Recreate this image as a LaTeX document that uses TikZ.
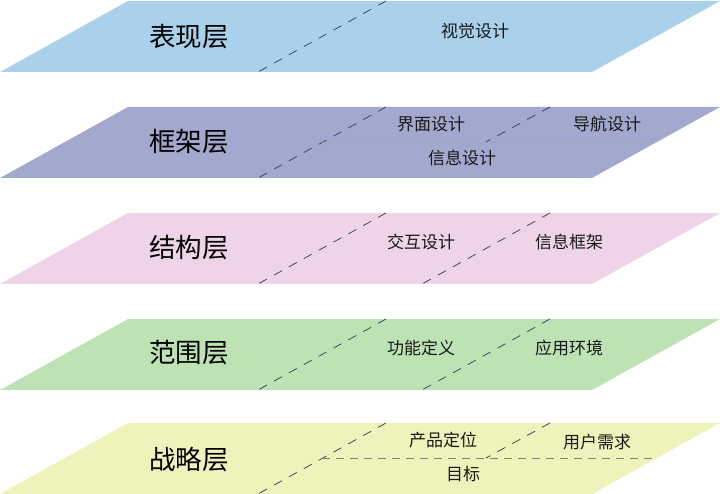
\documentclass[tikz,border=0pt]{standalone}
\usepackage{fontspec}
\setmainfont{Noto Sans CJK SC}
\usetikzlibrary{calc}
\definecolor{bandblue}{HTML}{A9D1EC}
\definecolor{bandviolet}{HTML}{A3A8CE}
\definecolor{bandpink}{HTML}{EFD4E9}
\definecolor{bandgreen}{HTML}{BDE3B5}
\definecolor{bandyellow}{HTML}{EEF3BB}
\definecolor{dashdark}{HTML}{3C4A5C}
\tikzset{
    % Pixel-like units, y running downwards
    x=1pt, y=-1pt,
%
    % Big name of each layer
    layer title/.style={font=\fontsize{26.5}{29}\selectfont, text=black},
%
    % Smaller item text inside a layer
    item label/.style={font=\fontsize{17}{19}\selectfont, text=black!90},
%
    % Slanted split between items
    slant split/.style={draw=dashdark, line width=0.8pt, dash pattern=on 9pt off 8pt},
%
    % Level split between items
    level split/.style={draw=#1, line width=0.9pt, dash pattern=on 8pt off 6pt}}

\begin{document}
\begin{tikzpicture}

\useasboundingbox (0,0) rectangle (720,494);

% the five slanted bands
\foreach \ytop/\col in {1/bandblue,107/bandviolet,213/bandpink,319/bandgreen,423/bandyellow}
    \fill [\col] (0,\ytop+71) -- (128,\ytop) -- (720,\ytop) -- (592,\ytop+71) -- cycle;

% first slanted split, all layers
\foreach \ytop in {1,107,213,319,423}
    \draw [slant split] (386,\ytop) -- (258,\ytop+71);

% second slanted split
\draw [slant split] (550,107) -- (486,142);
\draw [slant split] (550,213) -- (422,284);
\draw [slant split] (550,319) -- (422,390);
\draw [slant split] (550,423) -- (486,458);

% level splits
\draw [level split=gray!70] (322,142) -- (655,142);
\draw [level split=gray] (322,458) -- (655,458);

\node (surface) [layer title] at (189,37) {表现层};
\node (visual) [item label] at (475,31) {视觉设计};

\node (skeleton) [layer title] at (189,142) {框架层};
\node (iface) [item label] at (431,124) {界面设计};
\node (navi) [item label] at (607,124) {导航设计};
\node (infod) [item label] at (462,158) {信息设计};

\node (structure) [layer title] at (189,248) {结构层};
\node (interact) [item label] at (421,242) {交互设计};
\node (infoarch) [item label] at (569,242) {信息框架};

\node (scope) [layer title] at (189,353) {范围层};
\node (func) [item label] at (421,348) {功能定义};
\node (context) [item label] at (569,348) {应用环境};

\node (strategy) [layer title] at (189,459) {战略层};
\node (position) [item label] at (443,440) {产品定位};
\node (needs) [item label] at (597,442) {用户需求};
\node (goal) [item label] at (463,474) {目标};

\end{tikzpicture}
\end{document}
